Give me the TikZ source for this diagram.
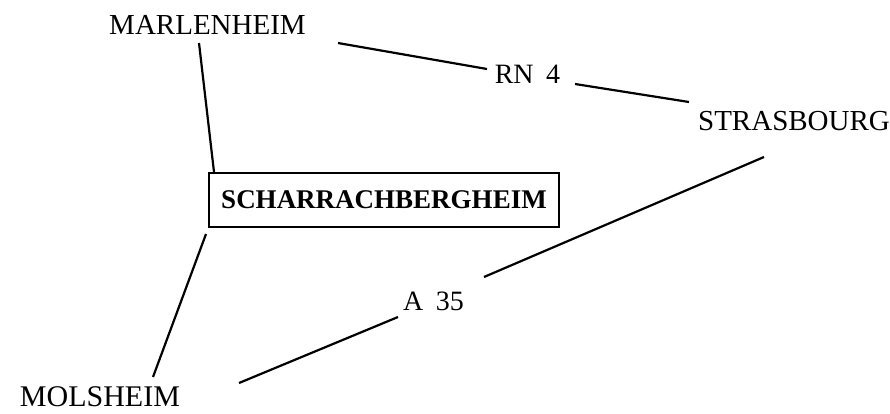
\documentclass[tikz,border=0pt]{standalone}
\usepackage{fontspec}
\setmainfont{Liberation Serif}
\usetikzlibrary{calc}
\begin{document}
\begin{tikzpicture}[x=1pt,y=-1pt,
  town/.style={inner sep=0pt,anchor=base,font=\fontsize{29}{34}\selectfont},
  road/.style={inner sep=0pt,anchor=base,font=\fontsize{28}{34}\selectfont},
  boxed/.style={draw,line width=2pt,minimum width=350pt,minimum height=54pt,inner sep=0pt,font=\fontsize{27}{32}\selectfont\bfseries},
  conn/.style={line width=2.2pt}]
\useasboundingbox (0,0) rectangle (890,413);
\node[town] (M) at (207.5,34) {MARLENHEIM};
\node[town] (S) at (794,130) {STRASBOURG};
\node[town,font=\fontsize{30}{34}\selectfont] (MO) at (100,406) {MOLSHEIM};
\node[road] (RN) at (527.5,83) {RN\hspace{0.45em}4};
\node[road] (A) at (433.5,310) {A\hspace{0.45em}35};
\node[boxed] (B) at (384,200) {SCHARRACHBERGHEIM};
\draw[conn] ($(M.base)+(-8.5,9)$) -- ($(B.north west)+(6,0)$);
\draw[conn] ($(B.south west)+(-2,6)$) -- ($(MO.base)+(53,-29)$);
\draw[conn] ($(M.base)+(130.5,9)$) -- ($(RN.base)+(-40.5,-14)$);
\draw[conn] ($(RN.base)+(47.5,1)$) -- ($(S.base)+(-105,-28)$);
\draw[conn] ($(S.base)+(-30,27)$) -- ($(A.base)+(50.5,-33)$);
\draw[conn] ($(A.base)+(-35.5,7)$) -- ($(MO.base)+(139,-23)$);
\end{tikzpicture}
\end{document}
